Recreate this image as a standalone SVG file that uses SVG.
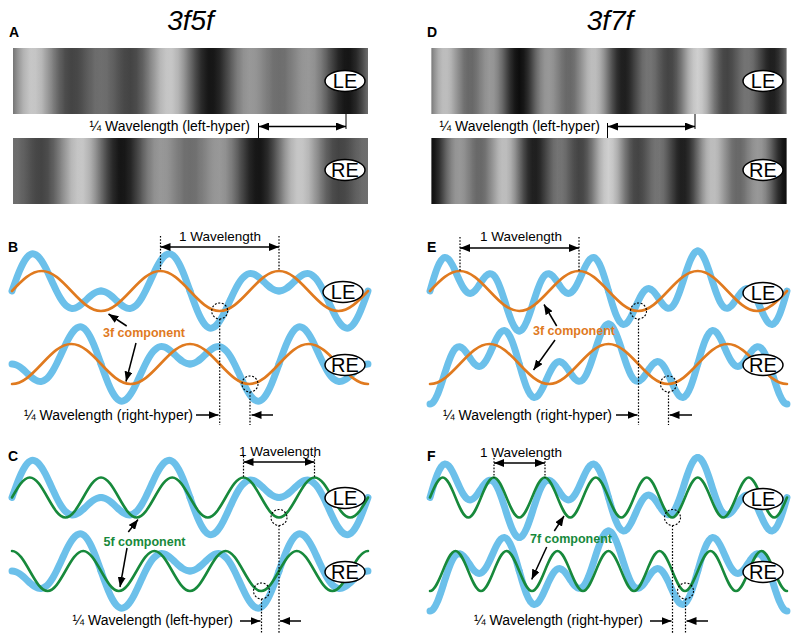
<svg xmlns="http://www.w3.org/2000/svg" width="800" height="644" viewBox="0 0 800 644">
<style>
.t{font-family:"Liberation Sans",Arial,sans-serif;fill:#000}
.lbl{font-size:14px;font-weight:bold}
.ttl{font-size:28px;font-style:italic;text-anchor:middle}
.wl{font-size:13.5px;text-anchor:middle}
.qw{font-size:14px;text-anchor:end}
.eye{font-size:20px;text-anchor:middle}
.comp{font-size:12.5px;font-weight:bold}
.blue{fill:none;stroke:#6cc0ea;stroke-width:7;stroke-linecap:round;stroke-linejoin:round}
.or{fill:none;stroke:#e07a1f;stroke-width:2.6;stroke-linecap:round}
.gr{fill:none;stroke:#17893b;stroke-width:2.6;stroke-linecap:round}
.ell{fill:#fff;stroke:#000;stroke-width:1.5}
.dot{fill:none;stroke:#000;stroke-width:1.2;stroke-dasharray:1.6 1.6}
.circ{fill:none;stroke:#000;stroke-width:1.1;stroke-dasharray:2 1.6}
.arr{fill:none;stroke:#000;stroke-width:1.5}
.tick{fill:none;stroke:#000;stroke-width:1}
</style>
<defs>
<marker id="ah" viewBox="0 0 10 8" refX="10" refY="4" markerWidth="10" markerHeight="8" markerUnits="userSpaceOnUse" orient="auto-start-reverse"><path d="M0,0 L10,4 L0,8 z" fill="#000"/></marker>
<linearGradient id="sg" gradientUnits="userSpaceOnUse" x1="0" y1="0" x2="1" y2="0" spreadMethod="repeat">
<stop offset="0" stop-color="#6e6e6e"/><stop offset="0.0833" stop-color="#9f9f9f"/><stop offset="0.1667" stop-color="#c2c2c2"/><stop offset="0.25" stop-color="#cfcfcf"/><stop offset="0.3333" stop-color="#c2c2c2"/><stop offset="0.4167" stop-color="#9f9f9f"/><stop offset="0.5" stop-color="#6e6e6e"/><stop offset="0.5833" stop-color="#3e3e3e"/><stop offset="0.6667" stop-color="#1a1a1a"/><stop offset="0.75" stop-color="#0d0d0d"/><stop offset="0.8333" stop-color="#1a1a1a"/><stop offset="0.9167" stop-color="#3e3e3e"/><stop offset="1" stop-color="#6e6e6e"/>
</linearGradient>
<linearGradient id="gA3L" href="#sg" gradientUnits="userSpaceOnUse" spreadMethod="repeat" y1="0" y2="0" x1="12" x2="130.667"/>
<linearGradient id="gA5L" href="#sg" gradientUnits="userSpaceOnUse" spreadMethod="repeat" y1="0" y2="0" x1="12" x2="83.2"/>
<linearGradient id="gA3R" href="#sg" gradientUnits="userSpaceOnUse" spreadMethod="repeat" y1="0" y2="0" x1="-77" x2="41.667"/>
<linearGradient id="gA5R" href="#sg" gradientUnits="userSpaceOnUse" spreadMethod="repeat" y1="0" y2="0" x1="-77" x2="-5.8"/>
<linearGradient id="gD3L" href="#sg" gradientUnits="userSpaceOnUse" spreadMethod="repeat" y1="0" y2="0" x1="430" x2="549"/>
<linearGradient id="gD7L" href="#sg" gradientUnits="userSpaceOnUse" spreadMethod="repeat" y1="0" y2="0" x1="430" x2="481"/>
<linearGradient id="gD3R" href="#sg" gradientUnits="userSpaceOnUse" spreadMethod="repeat" y1="0" y2="0" x1="340.75" x2="459.75"/>
<linearGradient id="gD7R" href="#sg" gradientUnits="userSpaceOnUse" spreadMethod="repeat" y1="0" y2="0" x1="340.75" x2="391.75"/>
<path id="q35" d="M0,0 C1.25,-3.44 2.5,-7.02 3.75,-10.33 S6.25,-16.93 7.5,-19.83 S10,-25.47 11.25,-27.74 S13.75,-31.98 15,-33.46 S17.5,-36.01 18.75,-36.59 S21.25,-37.28 22.5,-36.96 S25,-35.81 26.25,-34.65 S28.75,-31.86 30,-30 S32.5,-25.88 33.75,-23.52 S36.25,-18.49 37.5,-15.87 S40,-10.43 41.25,-7.78 S43.75,-2.44 45,0 S47.5,4.8 48.75,6.83 S51.25,10.69 52.5,12.17 S55,14.85 56.25,15.71 S58.75,17.09 60,17.32 S62.5,17.43 63.75,17.09 S66.25,16.09 67.5,15.31 S70,13.48 71.25,12.42 S73.75,10.12 75,8.97 S77.5,6.58 78.75,5.52 S81.25,3.42 82.5,2.61 S85,1.12 86.25,0.68 S88.75,0 90,0"/>
<path id="q37" d="M0,0 C1.25,-4.25 2.5,-8.83 3.75,-12.75 S6.25,-20.52 7.5,-23.52 S10,-29.07 11.25,-30.73 S13.75,-33.3 15,-33.46 S17.5,-32.89 18.75,-31.67 S21.25,-28.36 22.5,-26.13 S25,-21 26.25,-18.31 S28.75,-12.55 30,-10 S32.5,-4.88 33.75,-2.99 S36.25,0.47 37.5,1.35 S40,2.54 41.25,2.31 S43.75,1.17 45,0 S47.5,-2.97 48.75,-4.68 S51.25,-8.54 52.5,-10.26 S55,-13.83 56.25,-15.01 S58.75,-17.14 60,-17.32 S62.5,-17.14 63.75,-16.06 S66.25,-13.15 67.5,-10.82 S70,-5.37 71.25,-2.07 S73.75,5.2 75,8.97 S77.5,16.92 78.75,20.53 S81.25,27.81 82.5,30.65 S85,35.99 86.25,37.55 S88.75,40 90,40"/>
<g id="le35"><use href="#q35"/><use href="#q35" transform="matrix(-1,0,0,1,180,0)"/><use href="#q35" transform="matrix(1,0,0,-1,180,0)"/><use href="#q35" transform="matrix(-1,0,0,-1,360,0)"/></g>
<g id="re35"><use href="#q35" transform="matrix(-1,0,0,1,90,0)"/><use href="#q35" transform="matrix(1,0,0,-1,90,0)"/><use href="#q35" transform="matrix(-1,0,0,-1,270,0)"/><use href="#q35" transform="translate(270,0)"/></g>
<g id="le37"><use href="#q37"/><use href="#q37" transform="matrix(-1,0,0,1,180,0)"/><use href="#q37" transform="matrix(1,0,0,-1,180,0)"/><use href="#q37" transform="matrix(-1,0,0,-1,360,0)"/></g>
<g id="re37"><use href="#q37" transform="matrix(-1,0,0,1,90,0)"/><use href="#q37" transform="matrix(1,0,0,-1,90,0)"/><use href="#q37" transform="matrix(-1,0,0,-1,270,0)"/><use href="#q37" transform="translate(270,0)"/></g>
<path id="o3L" d="M0,0 c9.78,-10.25 19.14,-20 30,-20 s20.22,9.75 30,20 s19.14,20 30,20 s20.22,-9.75 30,-20 s19.14,-20 30,-20 s20.22,9.75 30,20 s19.14,20 30,20 s20.22,-9.75 30,-20 s19.14,-20 30,-20 s20.22,9.75 30,20 s19.14,20 30,20 s20.22,-9.75 30,-20"/>
<path id="o3R" d="M0,20 c10.86,0 20.22,-9.75 30,-20 s19.14,-20 30,-20 s20.22,9.75 30,20 s19.14,20 30,20 s20.22,-9.75 30,-20 s19.14,-20 30,-20 s20.22,9.75 30,20 s19.14,20 30,20 s20.22,-9.75 30,-20 s19.14,-20 30,-20 s20.22,9.75 30,20 s19.14,20 30,20"/>
<path id="g5L" d="M0,0 c5.87,-10.25 11.49,-20 18,-20 s12.13,9.75 18,20 s11.49,20 18,20 s12.13,-9.75 18,-20 s11.49,-20 18,-20 s12.13,9.75 18,20 s11.49,20 18,20 s12.13,-9.75 18,-20 s11.49,-20 18,-20 s12.13,9.75 18,20 s11.49,20 18,20 s12.13,-9.75 18,-20 s11.49,-20 18,-20 s12.13,9.75 18,20 s11.49,20 18,20 s12.13,-9.75 18,-20 s11.49,-20 18,-20 s12.13,9.75 18,20 s11.49,20 18,20 s12.13,-9.75 18,-20"/>
<path id="g5R" d="M0,-20 c6.51,0 12.13,9.75 18,20 s11.49,20 18,20 s12.13,-9.75 18,-20 s11.49,-20 18,-20 s12.13,9.75 18,20 s11.49,20 18,20 s12.13,-9.75 18,-20 s11.49,-20 18,-20 s12.13,9.75 18,20 s11.49,20 18,20 s12.13,-9.75 18,-20 s11.49,-20 18,-20 s12.13,9.75 18,20 s11.49,20 18,20 s12.13,-9.75 18,-20 s11.49,-20 18,-20 s12.13,9.75 18,20 s11.49,20 18,20 s12.13,-9.75 18,-20 s11.49,-20 18,-20"/>
<path id="g7L" d="M0,0 c4.19,-10.25 8.2,-20 12.857,-20 s8.66,9.75 12.857,20 s8.2,20 12.857,20 s8.66,-9.75 12.857,-20 s8.2,-20 12.857,-20 s8.66,9.75 12.857,20 s8.2,20 12.857,20 s8.66,-9.75 12.857,-20 s8.2,-20 12.857,-20 s8.66,9.75 12.857,20 s8.2,20 12.857,20 s8.66,-9.75 12.857,-20 s8.2,-20 12.857,-20 s8.66,9.75 12.857,20 s8.2,20 12.857,20 s8.66,-9.75 12.857,-20 s8.2,-20 12.857,-20 s8.66,9.75 12.857,20 s8.2,20 12.857,20 s8.66,-9.75 12.857,-20 s8.2,-20 12.857,-20 s8.66,9.75 12.857,20 s8.2,20 12.857,20 s8.66,-9.75 12.857,-20 s8.2,-20 12.857,-20 s8.66,9.75 12.857,20 s8.2,20 12.857,20 s8.66,-9.75 12.857,-20"/>
<path id="g7R" d="M0,20 c4.65,0 8.66,-9.75 12.857,-20 s8.2,-20 12.857,-20 s8.66,9.75 12.857,20 s8.2,20 12.857,20 s8.66,-9.75 12.857,-20 s8.2,-20 12.857,-20 s8.66,9.75 12.857,20 s8.2,20 12.857,20 s8.66,-9.75 12.857,-20 s8.2,-20 12.857,-20 s8.66,9.75 12.857,20 s8.2,20 12.857,20 s8.66,-9.75 12.857,-20 s8.2,-20 12.857,-20 s8.66,9.75 12.857,20 s8.2,20 12.857,20 s8.66,-9.75 12.857,-20 s8.2,-20 12.857,-20 s8.66,9.75 12.857,20 s8.2,20 12.857,20 s8.66,-9.75 12.857,-20 s8.2,-20 12.857,-20 s8.66,9.75 12.857,20 s8.2,20 12.857,20 s8.66,-9.75 12.857,-20 s8.2,-20 12.857,-20 s8.66,9.75 12.857,20 s8.2,20 12.857,20"/>
</defs>
<rect width="800" height="644" fill="#fff"/>

<g id="titles">
<text class="t ttl" x="190.5" y="30">3f5f</text>
<text class="t ttl" x="610" y="30">3f7f</text>
</g>

<g id="panelA">
<text class="t lbl" x="9" y="36.5">A</text>
<rect x="13" y="48" width="355" height="66" fill="url(#gA3L)"/>
<rect x="13" y="48" width="355" height="66" fill="url(#gA5L)" fill-opacity="0.5"/>
<rect x="13" y="138" width="355" height="66" fill="url(#gA3R)"/>
<rect x="13" y="138" width="355" height="66" fill="url(#gA5R)" fill-opacity="0.5"/>
<text class="t qw" x="250" y="130.5">¼ Wavelength (left-hyper)</text>
<g id="A-LE"><ellipse class="ell" cx="345" cy="81" rx="20" ry="10.5"/><text class="t eye" x="345" y="88">LE</text></g>
<g id="A-RE"><ellipse class="ell" cx="345" cy="170" rx="20" ry="10.5"/><text class="t eye" x="345" y="177">RE</text></g>
</g>

<g id="panelD">
<text class="t lbl" x="427" y="36.5">D</text>
<rect x="431.5" y="48" width="355" height="66" fill="url(#gD3L)"/>
<rect x="431.5" y="48" width="355" height="66" fill="url(#gD7L)" fill-opacity="0.5"/>
<rect x="431.5" y="138" width="355" height="66" fill="url(#gD3R)"/>
<rect x="431.5" y="138" width="355" height="66" fill="url(#gD7R)" fill-opacity="0.5"/>
<text class="t qw" x="600" y="130.5">¼ Wavelength (left-hyper)</text>
<g id="D-LE"><ellipse class="ell" cx="763" cy="81" rx="20" ry="10.5"/><text class="t eye" x="763" y="88">LE</text></g>
<g id="D-RE"><ellipse class="ell" cx="763" cy="170" rx="20" ry="10.5"/><text class="t eye" x="763" y="177">RE</text></g>
</g>

<g id="panelB">
<text class="t lbl" x="8" y="252">B</text>
<g transform="translate(12,291) scale(0.98889,1)"><use href="#le35" class="blue"/><use href="#o3L" class="or"/></g>
<g transform="translate(12,364) scale(0.98889,1)"><use href="#re35" class="blue"/><use href="#o3R" class="or"/></g>
<text class="t wl" x="220" y="241">1 Wavelength</text>
<text class="t comp" x="103" y="337" fill="#e07a1f" style="fill:#e07a1f">3f component</text>
<text class="t qw" x="193" y="419.5">¼ Wavelength (right-hyper)</text>
<circle class="circ" cx="219.7" cy="311" r="8"/>
<circle class="circ" cx="250" cy="384" r="8"/>
<g id="B-LE"><ellipse class="ell" cx="343" cy="292" rx="20" ry="10.5"/><text class="t eye" x="343" y="299">LE</text></g>
<g id="B-RE"><ellipse class="ell" cx="345" cy="365" rx="20" ry="10.5"/><text class="t eye" x="345" y="372">RE</text></g>
</g>

<g id="panelE">
<text class="t lbl" x="427" y="252">E</text>
<g transform="translate(430,291) scale(0.99167,1)"><use href="#le37" class="blue"/><use href="#o3L" class="or"/></g>
<g transform="translate(430,364) scale(0.99167,1)"><use href="#re37" class="blue"/><use href="#o3R" class="or"/></g>
<text class="t wl" x="521" y="241">1 Wavelength</text>
<text class="t comp" x="533" y="334.5" style="fill:#e07a1f">3f component</text>
<text class="t qw" x="612" y="419.5">¼ Wavelength (right-hyper)</text>
<circle class="circ" cx="638.5" cy="311" r="8"/>
<circle class="circ" cx="668.5" cy="384" r="8"/>
<g id="E-LE"><ellipse class="ell" cx="763" cy="293" rx="20" ry="10.5"/><text class="t eye" x="763" y="300">LE</text></g>
<g id="E-RE"><ellipse class="ell" cx="763" cy="365" rx="20" ry="10.5"/><text class="t eye" x="763" y="372">RE</text></g>
</g>

<g id="panelC">
<text class="t lbl" x="8" y="460.5">C</text>
<g transform="translate(12,497.5) scale(0.98889,1)"><use href="#le35" class="blue"/><use href="#g5L" class="gr"/></g>
<g transform="translate(12,571) scale(0.98889,1)"><use href="#re35" class="blue"/><use href="#g5R" class="gr"/></g>
<text class="t wl" x="280" y="455.5">1 Wavelength</text>
<text class="t comp" x="103.5" y="546" style="fill:#17893b">5f component</text>
<text class="t qw" x="233" y="625">¼ Wavelength (left-hyper)</text>
<circle class="circ" cx="279" cy="517.5" r="8"/>
<circle class="circ" cx="261.5" cy="591" r="8"/>
<g id="C-LE"><ellipse class="ell" cx="345" cy="498" rx="20" ry="10.5"/><text class="t eye" x="345" y="505">LE</text></g>
<g id="C-RE"><ellipse class="ell" cx="345" cy="572" rx="20" ry="10.5"/><text class="t eye" x="345" y="579">RE</text></g>
</g>

<g id="panelF">
<text class="t lbl" x="427" y="460.5">F</text>
<g transform="translate(430,497.5) scale(0.99167,1)"><use href="#le37" class="blue"/><use href="#g7L" class="gr"/></g>
<g transform="translate(430,571) scale(0.99167,1)"><use href="#re37" class="blue"/><use href="#g7R" class="gr"/></g>
<text class="t wl" x="521" y="457">1 Wavelength</text>
<text class="t comp" x="530" y="543" style="fill:#17893b">7f component</text>
<text class="t qw" x="643" y="625">¼ Wavelength (right-hyper)</text>
<circle class="circ" cx="672.5" cy="517.5" r="8"/>
<circle class="circ" cx="685.5" cy="591" r="8"/>
<g id="F-LE"><ellipse class="ell" cx="763" cy="499" rx="20" ry="10.5"/><text class="t eye" x="763" y="506">LE</text></g>
<g id="F-RE"><ellipse class="ell" cx="763" cy="572" rx="20" ry="10.5"/><text class="t eye" x="763" y="579">RE</text></g>
</g>

<g id="connectors">
<line class="tick" x1="346" y1="114" x2="346" y2="129"/>
<line class="tick" x1="258.5" y1="123" x2="258.5" y2="138"/>
<line class="arr" x1="259" y1="126.5" x2="346" y2="126.5" marker-start="url(#ah)" marker-end="url(#ah)"/>
<line class="tick" x1="695" y1="114" x2="695" y2="129"/>
<line class="tick" x1="607.5" y1="123" x2="607.5" y2="138"/>
<line class="arr" x1="608" y1="126.5" x2="695" y2="126.5" marker-start="url(#ah)" marker-end="url(#ah)"/>

<line class="dot" x1="160.5" y1="236" x2="160.5" y2="271"/>
<line class="dot" x1="279" y1="236" x2="279" y2="271"/>
<line class="arr" x1="160.5" y1="247" x2="279" y2="247" marker-start="url(#ah)" marker-end="url(#ah)"/>
<line class="dot" x1="219.7" y1="319" x2="219.7" y2="425"/>
<line class="dot" x1="250" y1="392" x2="250" y2="425"/>
<line class="arr" x1="196" y1="415" x2="218.5" y2="415" marker-end="url(#ah)"/>
<line class="arr" x1="273" y1="415" x2="251.5" y2="415" marker-end="url(#ah)"/>
<line class="arr" x1="126.7" y1="326" x2="108.5" y2="314" marker-end="url(#ah)"/>
<line class="arr" x1="136" y1="343" x2="126" y2="381.5" marker-end="url(#ah)"/>

<line class="dot" x1="460" y1="237" x2="460" y2="271"/>
<line class="dot" x1="579" y1="237" x2="579" y2="271"/>
<line class="arr" x1="460" y1="248" x2="579" y2="248" marker-start="url(#ah)" marker-end="url(#ah)"/>
<line class="dot" x1="638.5" y1="319" x2="638.5" y2="425"/>
<line class="dot" x1="668.5" y1="392" x2="668.5" y2="425"/>
<line class="arr" x1="616" y1="415" x2="637.5" y2="415" marker-end="url(#ah)"/>
<line class="arr" x1="692" y1="415" x2="669.5" y2="415" marker-end="url(#ah)"/>
<line class="arr" x1="556.7" y1="326" x2="544" y2="304.5" marker-end="url(#ah)"/>
<line class="arr" x1="555" y1="340" x2="533.5" y2="370" marker-end="url(#ah)"/>

<line class="dot" x1="243.5" y1="456" x2="243.5" y2="477"/>
<line class="dot" x1="314.5" y1="456" x2="314.5" y2="477"/>
<line class="arr" x1="243.5" y1="462" x2="314.5" y2="462" marker-start="url(#ah)" marker-end="url(#ah)"/>
<line class="dot" x1="279" y1="525.5" x2="279" y2="634"/>
<line class="dot" x1="261.5" y1="599" x2="261.5" y2="634"/>
<line class="arr" x1="240" y1="621" x2="260.5" y2="621" marker-end="url(#ah)"/>
<line class="arr" x1="301" y1="621" x2="280" y2="621" marker-end="url(#ah)"/>
<line class="arr" x1="128.3" y1="532" x2="138" y2="519.5" marker-end="url(#ah)"/>
<line class="arr" x1="127" y1="548" x2="120" y2="587" marker-end="url(#ah)"/>

<line class="dot" x1="494" y1="458" x2="494" y2="478"/>
<line class="dot" x1="545" y1="458" x2="545" y2="478"/>
<line class="arr" x1="494" y1="463" x2="545" y2="463" marker-start="url(#ah)" marker-end="url(#ah)"/>
<line class="dot" x1="672.5" y1="525.5" x2="672.5" y2="634"/>
<line class="dot" x1="685.5" y1="599" x2="685.5" y2="634"/>
<line class="arr" x1="650" y1="621" x2="671.5" y2="621" marker-end="url(#ah)"/>
<line class="arr" x1="708" y1="621" x2="686.5" y2="621" marker-end="url(#ah)"/>
<line class="arr" x1="554.3" y1="531" x2="564" y2="516" marker-end="url(#ah)"/>
<line class="arr" x1="546.7" y1="547" x2="531.7" y2="579.5" marker-end="url(#ah)"/>
</g>
</svg>
